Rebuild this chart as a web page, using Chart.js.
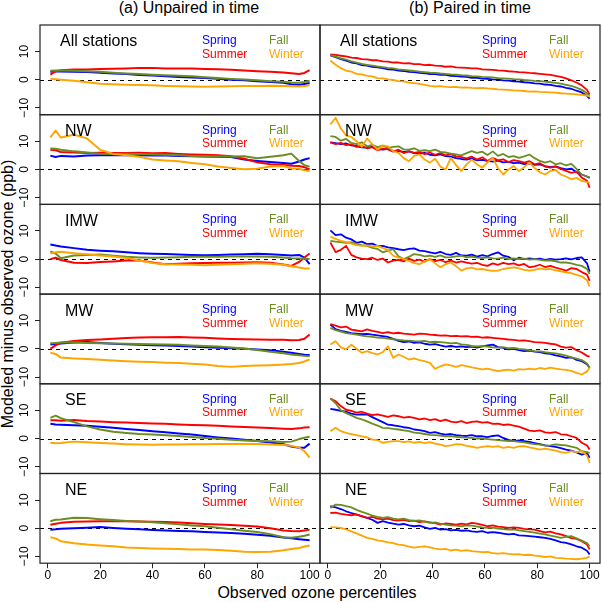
<!DOCTYPE html>
<html>
<head>
<meta charset="utf-8">
<script src="https://cdn.jsdelivr.net/npm/chart.js@4.4.1/dist/chart.umd.min.js"></script>
<style>
  body { margin: 0; background: #fff; width: 602px; height: 602px; position: relative; overflow: hidden;
         font-family: "Liberation Sans", Arial, sans-serif; color: #000; }
  canvas { position: absolute; left: 0; top: 0; }
  .lbl { position: absolute; font-size: 16px; line-height: 16px; white-space: nowrap; }
</style>
</head>
<body>
<div class="lbl" style="left:189px; top:0px; transform:translateX(-50%)">(a) Unpaired in time</div>
<div class="lbl" style="left:470px; top:0px; transform:translateX(-50%)">(b) Paired in time</div>
<div class="lbl" style="left:317px; top:585px; transform:translateX(-50%)">Observed ozone percentiles</div>
<div class="lbl" style="left:8px; top:294px; transform:translate(-50%,-50%) rotate(-90deg)">Modeled minus observed ozone (ppb)</div>

<script>
const pctU = [1, 3, 5, 10, 15, 20, 25, 30, 35, 40, 45, 50, 55, 60, 65, 70, 75, 80, 85, 90, 93, 96, 98, 100];
const pctP = [1, 3, 5, 7, 9, 11, 13, 15, 17, 19, 21, 23, 25, 27, 29, 31, 33, 35, 37, 39, 41, 43, 45, 47, 49,
              51, 53, 55, 57, 59, 61, 63, 65, 67, 69, 71, 73, 75, 77, 79, 81, 83, 85, 87, 89, 91, 93, 95, 97, 99, 100];
const xTicks = [0, 20, 40, 60, 80, 100];
const yTicks = [-10, 0, 10];
const regions = ['All stations', 'NW', 'IMW', 'MW', 'SE', 'NE'];
const seasons = ['Spring', 'Summer', 'Fall', 'Winter'];
const seasonColors = ['#0000ff', '#ff0000', '#6b8e23', '#ffa500'];

// (a) unpaired in time
const allU_spring = [2.8, 2.9, 2.9, 2.8, 2.7, 2.5, 2.2, 2.0, 1.7, 1.5, 1.2, 1.0, 0.8, 0.6, 0.3, 0.0, -0.2, -0.5, -0.8, -1.1, -1.6, -1.8, -1.5, -1.2];
const allU_summer = [1.8, 3.0, 3.4, 3.6, 3.6, 3.8, 3.9, 4.0, 4.2, 4.2, 4.0, 4.0, 4.0, 3.8, 3.7, 3.5, 3.3, 3.0, 2.8, 2.6, 2.3, 2.0, 2.4, 3.4];
const allU_fall   = [3.2, 3.3, 3.3, 3.2, 3.0, 2.8, 2.5, 2.2, 2.0, 1.8, 1.6, 1.4, 1.2, 0.9, 0.6, 0.3, 0.1, -0.2, -0.5, -0.7, -1.0, -1.1, -0.8, -0.4];
const allU_winter = [0.3, 0.2, 0.0, -0.4, -0.9, -1.4, -1.6, -1.8, -1.9, -2.0, -2.2, -2.3, -2.4, -2.5, -2.4, -2.3, -2.2, -2.2, -2.1, -2.2, -2.3, -2.4, -2.2, -2.0];

const nwU_spring = [4.9, 4.4, 4.8, 4.6, 4.9, 5.0, 5.0, 5.1, 5.0, 4.9, 4.9, 4.8, 4.7, 4.6, 4.5, 4.4, 3.5, 3.0, 2.6, 2.3, 2.0, 2.8, 3.5, 4.0];
const nwU_summer = [7.0, 6.8, 6.2, 6.0, 5.8, 5.9, 5.8, 5.8, 5.9, 5.7, 5.8, 5.5, 5.3, 5.2, 5.0, 4.7, 3.8, 2.5, 1.8, 1.6, 1.3, 1.2, 0.8, 0.0];
const nwU_fall   = [7.4, 7.3, 7.0, 6.4, 6.0, 5.6, 5.5, 5.6, 5.5, 5.3, 5.2, 5.0, 4.8, 4.7, 4.6, 4.6, 4.7, 4.0, 4.5, 5.0, 5.6, 3.0, 1.5, 1.0];
const nwU_winter = [11.4, 13.8, 11.3, 12.3, 11.0, 7.0, 5.5, 5.0, 4.5, 3.5, 3.2, 2.9, 2.3, 1.8, 1.0, 0.5, 0.1, 0.2, 1.0, 1.2, 0.3, 0.2, -0.3, -0.6];

const imwU_spring = [5.2, 4.8, 4.5, 3.9, 3.3, 3.0, 2.8, 2.4, 2.1, 1.9, 1.8, 1.6, 1.5, 1.4, 1.5, 1.6, 1.7, 1.9, 1.7, 1.5, 1.3, 1.5, 0.5, -1.8];
const imwU_summer = [0.0, 0.5, -0.3, -1.3, -1.4, -1.0, -0.8, -0.5, -0.5, -1.2, -1.8, -1.6, -1.5, -1.4, -1.3, -1.3, -1.2, -1.1, -1.3, -1.9, -2.4, -1.0, 0.6, 2.0];
const imwU_fall   = [2.7, 2.0, 0.3, 1.3, 1.5, 1.6, 1.2, 0.8, 0.6, 0.5, 0.6, 0.7, 0.8, 0.8, 0.8, 0.9, 0.9, 0.9, 0.8, 0.6, 0.3, 0.2, 0.1, 0.0];
const imwU_winter = [2.0, 2.4, 2.6, 2.1, 1.7, 1.3, 0.9, 0.4, -0.5, -1.4, -1.8, -1.9, -2.0, -2.2, -2.0, -1.8, -1.6, -1.5, -1.6, -2.0, -2.5, -3.0, -3.3, -3.3];

const mwU_spring = [1.5, 1.7, 1.9, 2.2, 2.4, 2.1, 1.8, 1.6, 1.4, 1.3, 1.2, 1.0, 0.8, 0.6, 0.4, 0.2, 0.0, -0.2, -0.5, -1.0, -1.4, -1.8, -2.1, -2.2];
const mwU_summer = [0.0, 1.2, 2.2, 2.8, 3.1, 3.3, 3.6, 3.8, 4.0, 4.1, 4.1, 4.2, 4.0, 3.9, 3.7, 3.5, 3.4, 3.3, 3.2, 3.2, 3.0, 3.1, 3.6, 5.1];
const mwU_fall   = [2.0, 2.1, 2.2, 2.2, 2.1, 2.0, 1.9, 1.8, 1.7, 1.6, 1.5, 1.4, 1.2, 1.0, 0.8, 0.5, 0.1, -0.4, -1.0, -1.6, -2.0, -2.3, -2.5, -2.6];
const mwU_winter = [-1.4, -1.8, -3.1, -3.4, -3.6, -3.9, -4.1, -4.4, -4.6, -4.7, -4.9, -5.0, -5.3, -5.6, -6.1, -6.4, -6.1, -5.9, -5.8, -5.6, -5.4, -5.0, -4.5, -3.8];

const seU_spring = [5.2, 5.0, 4.9, 4.7, 4.5, 4.2, 3.8, 3.4, 3.0, 2.6, 2.2, 1.8, 1.4, 0.9, 0.4, 0.0, -0.4, -0.9, -1.4, -2.0, -2.8, -3.3, -3.3, -1.8];
const seU_summer = [6.5, 6.5, 6.3, 6.6, 6.2, 6.0, 5.8, 5.7, 5.5, 5.3, 5.2, 5.0, 4.8, 4.7, 4.5, 4.3, 4.1, 3.9, 3.7, 3.5, 3.4, 3.6, 3.9, 4.0];
const seU_fall   = [7.3, 8.1, 7.2, 5.8, 4.3, 3.2, 2.4, 2.0, 1.6, 1.4, 1.2, 0.9, 0.5, 0.2, -0.1, -0.4, -0.7, -0.9, -1.0, -1.2, -1.1, -0.2, 0.3, 0.6];
const seU_winter = [-1.5, -1.7, -1.6, -1.1, -1.3, -1.6, -1.8, -2.0, -2.1, -2.2, -2.1, -2.1, -2.0, -2.0, -1.9, -1.9, -1.9, -1.9, -2.1, -2.3, -2.6, -3.2, -4.5, -6.8];

const neU_spring = [-0.5, -0.4, -0.2, 0.0, 0.2, 0.4, 0.1, -0.2, -0.4, -0.6, -0.8, -1.0, -1.1, -1.3, -1.5, -1.7, -2.0, -2.3, -2.7, -3.3, -3.6, -3.9, -4.1, -4.3];
const neU_summer = [1.2, 1.6, 1.9, 2.3, 2.4, 2.5, 2.5, 2.5, 2.4, 2.3, 2.2, 2.0, 1.8, 1.5, 1.3, 1.1, 0.9, 0.6, 0.0, -0.8, -1.0, -1.1, -0.8, -0.5];
const neU_fall   = [2.5, 3.0, 3.1, 3.7, 3.6, 3.2, 2.9, 2.6, 2.4, 2.1, 1.8, 1.4, 1.0, 0.7, 0.2, -0.4, -0.9, -1.3, -2.1, -3.2, -3.4, -3.0, -2.7, -2.2];
const neU_winter = [-3.2, -3.6, -4.6, -5.3, -5.8, -6.1, -6.4, -6.8, -7.0, -7.2, -7.3, -7.4, -7.5, -7.5, -7.7, -8.0, -8.3, -8.4, -8.3, -7.8, -7.4, -7.0, -6.5, -6.1];

// (b) paired in time
const allP_spring = [8.6, 8.0, 7.3, 6.8, 6.1, 5.8, 5.2, 5.0, 4.6, 4.4, 4.1, 3.7, 3.6, 3.2, 3.1, 2.8, 2.7, 2.4, 2.3, 2.0,
  2.0, 1.7, 1.7, 1.4, 1.3, 1.1, 1.0, 0.7, 0.7, 0.4, 0.3, 0.1, 0.0, -0.2, -0.3, -0.6, -0.7, -0.9, -1.0, -1.3,
  -1.4, -1.7, -1.8, -2.2, -2.4, -2.9, -3.2, -3.9, -4.5, -5.7, -6.7];
const allP_summer = [9.0, 8.8, 8.5, 8.3, 7.8, 7.7, 7.3, 7.2, 6.9, 6.9, 6.5, 6.4, 6.1, 6.1, 5.8, 5.9, 5.5, 5.5, 5.2, 5.3,
  5.0, 4.9, 4.6, 4.7, 4.4, 4.3, 4.2, 4.0, 4.0, 3.7, 3.6, 3.5, 3.3, 3.2, 3.0, 2.9, 2.7, 2.6, 2.4, 2.3,
  2.1, 1.9, 1.7, 1.4, 1.0, 0.5, -0.2, -1.0, -2.0, -3.6, -5.3];
const allP_fall = [8.7, 8.2, 7.6, 7.1, 6.5, 6.1, 5.6, 5.3, 5.0, 4.7, 4.5, 4.2, 4.0, 3.7, 3.5, 3.3, 3.1, 2.9, 2.7, 2.5,
  2.4, 2.2, 2.1, 1.9, 1.8, 1.6, 1.5, 1.3, 1.2, 1.0, 0.9, 0.8, 0.6, 0.5, 0.4, 0.2, 0.1, -0.1, -0.2, -0.4,
  -0.5, -0.7, -0.9, -1.1, -1.4, -1.8, -2.2, -2.8, -3.6, -4.8, -5.8];
const allP_winter = [6.8, 5.3, 4.1, 3.2, 2.9, 2.1, 1.9, 1.4, 1.2, 0.6, 0.5, 0.1, -0.1, -0.5, -0.6, -1.0, -1.2, -1.5, -1.8, -2.2,
  -2.4, -2.3, -2.5, -2.6, -2.5, -2.8, -2.7, -2.9, -3.0, -2.9, -3.1, -3.2, -3.4, -3.5, -3.6, -3.8, -3.9, -4.0, -4.2, -4.1,
  -4.3, -4.4, -4.5, -4.6, -4.8, -4.9, -5.0, -5.2, -5.4, -5.6, -5.9];

const nwP_spring = [9.6, 9.3, 9.0, 9.2, 8.5, 8.3, 7.8, 7.7, 8.0, 7.2, 7.0, 7.3, 6.6, 6.5, 6.2, 6.4, 5.8, 5.6, 5.9, 5.2,
  5.0, 5.3, 4.7, 4.5, 4.0, 3.7, 3.5, 3.9, 3.2, 3.4, 3.0, 2.8, 3.1, 2.5, 2.7, 2.2, 2.4, 1.9, 2.1, 1.6,
  1.8, 1.2, 0.8, 1.1, 0.5, 0.0, 0.3, -1.0, -1.8, -2.5, -3.0];
const nwP_summer = [9.6, 9.0, 9.4, 8.6, 8.9, 8.0, 8.4, 7.5, 7.9, 6.8, 7.4, 7.1, 6.3, 7.0, 5.8, 6.5, 5.9, 6.2, 5.4, 6.0,
  5.2, 5.8, 5.0, 5.4, 4.6, 4.4, 3.9, 4.5, 3.5, 4.3, 3.0, 4.1, 3.2, 3.6, 2.6, 3.3, 2.9, 2.4, 2.9, 1.8,
  2.2, 1.0, 0.6, 1.0, 0.2, -0.5, -1.2, -0.8, -2.9, -4.0, -6.5];
const nwP_fall = [11.8, 11.5, 10.2, 10.8, 9.4, 9.0, 9.6, 8.2, 8.7, 7.9, 8.4, 7.6, 8.0, 8.2, 7.1, 7.0, 7.5, 6.6, 6.8, 6.5,
  7.0, 6.2, 6.0, 5.6, 5.3, 5.0, 5.8, 6.5, 5.9, 6.3, 5.1, 6.4, 4.8, 5.5, 4.4, 4.7, 4.1, 4.6, 5.3, 4.0,
  3.0, 2.4, 2.9, 1.8, 2.2, 1.4, 2.0, 0.2, -1.8, -2.5, -2.9];
const nwP_winter = [15.9, 18.3, 14.5, 12.0, 11.5, 10.0, 8.0, 11.0, 9.0, 7.0, 8.5, 8.2, 6.5, 5.9, 4.0, 2.9, 4.8, 5.3, 3.5, 2.4,
  3.8, 1.0, 0.0, 4.1, 1.5, -0.6, 1.8, 3.5, 1.8, 0.6, 2.5, 4.1, 0.5, -1.8, 0.0, 1.2, -0.6, 0.8, 2.4, 0.5,
  -1.0, -1.8, -0.6, -0.2, -1.8, -2.5, -3.5, -3.0, -4.1, -4.5, -4.7];

const imwP_spring = [10.2, 8.5, 8.8, 7.6, 7.0, 5.8, 6.2, 5.3, 5.5, 4.6, 4.7, 4.2, 3.9, 3.5, 3.2, 3.6, 3.8, 3.0, 2.8, 2.4,
  2.0, 2.6, 1.8, 1.5, 2.2, 1.3, 1.2, 1.6, 0.9, 1.4, 1.0, 1.8, 2.4, 1.2, 0.8, -0.4, 0.5, 0.0, 0.3, 0.0,
  0.2, -0.3, 0.1, -0.2, 0.0, 0.3, -0.1, 0.4, 0.6, -1.5, -4.5];
const imwP_summer = [5.9, 2.5, 3.3, 4.7, 1.5, 0.6, 0.2, 0.0, 0.5, -0.3, 0.2, -1.2, -0.5, -0.3, -0.8, 0.2, -0.6, -0.2, -0.9, 0.0,
  -0.7, -0.3, -1.1, -0.5, -1.2, -0.8, -1.2, -1.6, -1.3, -2.0, -2.4, -1.5, -2.0, -1.3, -1.8, -1.5, -2.2, -1.7, -2.9, -2.6,
  -2.0, -2.8, -2.4, -3.0, -3.5, -4.1, -3.2, -3.5, -4.6, -5.5, -7.7];
const imwP_fall = [6.5, 6.2, 6.0, 5.8, 5.9, 5.4, 5.0, 4.7, 4.0, 3.6, 2.4, 3.0, 3.5, 1.0, 0.0, 0.8, 1.8, 1.5, 1.0, 1.2,
  0.8, 1.3, 0.6, 0.7, 1.0, 1.2, 0.6, 0.9, 0.5, 0.4, 0.6, 0.3, 0.2, 0.5, 0.0, 0.3, 0.0, 0.2, -0.2, 0.0,
  -0.3, -0.5, -0.4, -0.8, -1.2, -1.2, -1.5, -2.0, -2.4, -3.5, -5.3];
const imwP_winter = [8.0, 7.2, 6.5, 6.0, 5.5, 5.0, 4.7, 4.9, 4.5, 4.7, 4.0, 3.2, 1.2, 0.5, 0.0, -0.6, -1.4, -1.8, -0.8, 0.0,
  -1.5, -2.9, -1.8, -1.2, -2.5, -4.1, -3.3, -3.0, -3.6, -3.5, -3.9, -4.2, -4.1, -3.5, -3.2, -2.9, -3.3, -3.8, -4.1, -3.8,
  -3.3, -3.6, -3.5, -4.0, -4.3, -4.7, -5.0, -5.6, -6.1, -7.5, -9.7];

const mwP_spring = [8.6, 7.0, 6.4, 6.0, 5.6, 5.4, 5.2, 5.3, 5.0, 4.8, 4.5, 4.2, 3.5, 2.8, 2.4, 2.6, 2.1, 2.3, 1.8, 1.5,
  1.7, 1.2, 0.8, 1.0, 0.7, 0.9, 0.6, 0.8, 0.4, 0.9, 1.2, 1.5, 0.6, 0.3, -0.2, 0.0, -0.5, -0.8, -0.6, -1.0,
  -1.2, -1.6, -1.8, -2.3, -2.7, -3.2, -3.0, -3.9, -4.4, -5.5, -6.7];
const mwP_summer = [8.8, 8.2, 7.6, 7.9, 6.8, 6.5, 6.2, 6.9, 6.4, 6.0, 5.6, 5.9, 5.5, 5.7, 5.4, 5.2, 5.0, 5.4, 5.3, 5.0,
  4.9, 4.7, 4.8, 4.5, 4.6, 4.4, 4.5, 4.2, 4.3, 4.0, 4.1, 3.9, 3.7, 3.5, 3.3, 3.2, 2.9, 3.0, 2.7, 2.4,
  2.3, 2.1, 1.8, 1.6, 0.8, 0.4, 0.6, -0.5, -1.3, -2.5, -2.8];
const mwP_fall = [7.4, 6.6, 6.1, 5.6, 5.3, 5.0, 4.7, 4.4, 4.2, 4.0, 3.9, 3.6, 3.4, 3.2, 3.0, 2.9, 2.7, 2.6, 2.8, 2.4,
  2.5, 2.4, 2.2, 1.9, 2.1, 1.6, 1.4, 1.0, 0.9, 1.0, 0.8, 0.5, 0.4, 0.6, 0.2, 0.3, 0.0, -0.2, -0.5, -0.8,
  -0.9, -1.2, -1.4, -1.6, -2.0, -2.4, -3.0, -3.5, -4.0, -5.2, -6.7];
const mwP_winter = [1.5, 2.7, 0.5, -0.2, 1.5, 0.0, -1.4, -0.8, -1.5, -2.0, -1.2, 0.9, -3.2, -2.0, -2.8, -3.8, -3.4, -4.0, -4.4, -5.0,
  -7.1, -6.2, -5.5, -5.9, -6.4, -5.8, -6.1, -6.6, -6.9, -7.3, -7.0, -7.5, -7.9, -7.6, -7.4, -7.7, -7.2, -7.4, -7.0, -7.3,
  -6.8, -7.1, -6.7, -7.0, -7.3, -7.5, -7.8, -8.5, -9.1, -8.0, -6.7];

const seP_spring = [10.5, 10.2, 9.8, 9.5, 8.8, 8.5, 8.6, 8.5, 7.6, 6.7, 5.8, 4.9, 4.7, 4.4, 4.0, 3.8, 3.2, 3.0, 2.6, 2.0,
  2.3, 1.7, 1.4, 1.6, 1.2, 1.0, 0.9, 1.2, 0.8, 0.8, 0.5, 0.9, 1.1, 0.2, -0.5, -0.9, -0.7, -0.9, -1.2, -1.6,
  -2.0, -2.4, -2.7, -3.0, -3.4, -3.9, -4.3, -4.9, -5.7, -5.2, -6.8];
const seP_summer = [14.2, 13.2, 11.5, 10.2, 9.8, 9.2, 9.5, 8.8, 8.3, 8.6, 8.1, 7.7, 8.2, 7.9, 7.4, 7.7, 7.3, 6.8, 7.1, 6.5,
  6.9, 6.2, 6.7, 6.0, 5.7, 6.2, 5.5, 5.9, 6.1, 5.6, 5.8, 5.2, 5.3, 4.8, 5.0, 4.6, 4.2, 3.5, 2.8, 2.6,
  2.9, 2.2, 2.0, 2.3, 1.5, 1.4, 0.8, 0.2, -1.5, -2.5, -3.9];
const seP_fall = [14.2, 12.5, 10.0, 9.0, 8.2, 7.3, 6.8, 6.1, 5.3, 4.6, 3.8, 3.7, 3.4, 3.2, 2.9, 2.6, 2.1, 1.9, 1.6, 1.3,
  1.2, 1.0, 0.8, 0.8, 0.6, 0.4, 0.3, 0.2, 0.0, 0.0, -0.2, -0.4, -0.6, -0.7, -0.9, -0.9, -1.2, -1.4, -1.7, -2.0,
  -2.2, -2.5, -2.4, -2.1, -2.3, -2.4, -2.9, -3.3, -4.5, -4.8, -5.1];
const seP_winter = [2.6, 3.8, 2.6, 2.0, 1.6, 1.2, 0.8, 0.4, -0.4, -0.6, -1.5, -1.2, -0.9, -0.9, -1.3, -1.0, -1.5, -1.2, -1.6, -1.3,
  -1.8, -2.2, -2.7, -2.4, -2.0, -2.1, -2.6, -2.9, -3.3, -3.0, -2.7, -3.0, -2.7, -3.3, -3.0, -3.3, -2.8, -2.7, -3.1, -3.5,
  -3.9, -3.6, -3.9, -4.3, -4.8, -5.1, -4.5, -4.8, -4.5, -6.0, -8.6];

const neP_spring = [7.8, 7.4, 6.8, 6.0, 5.4, 4.8, 4.3, 3.7, 3.0, 1.9, 2.5, 2.0, 1.6, 1.3, 1.5, 1.0, 0.7, 0.9, 0.3, -0.2,
  0.1, -0.5, -0.3, -0.8, -0.6, -0.9, -0.8, -1.1, -1.3, -1.0, -1.6, -1.4, -1.6, -1.9, -2.2, -2.0, -2.5, -2.6, -2.8, -3.0,
  -3.2, -3.4, -3.8, -4.3, -4.9, -5.2, -5.7, -6.4, -6.9, -8.0, -9.3];
const neP_summer = [5.4, 5.5, 5.1, 4.8, 4.6, 4.9, 4.2, 3.7, 4.0, 3.4, 3.1, 3.4, 2.9, 2.7, 3.0, 2.5, 2.7, 2.2, 2.4, 2.1,
  1.8, 1.3, 1.7, 1.5, 1.3, 1.6, 1.4, 1.9, 1.6, 1.2, 0.7, 1.0, 0.6, 0.4, 0.1, 0.3, 0.1, -0.2, -0.4, -0.5,
  -1.0, -1.5, -1.2, -1.8, -2.2, -2.8, -3.5, -3.8, -4.6, -5.8, -7.5];
const neP_fall = [7.2, 8.4, 8.3, 7.8, 7.4, 6.5, 5.8, 5.2, 4.5, 4.0, 3.7, 3.9, 3.4, 3.1, 3.4, 2.9, 2.6, 2.8, 2.3, 1.9,
  2.1, 1.6, 1.3, 1.0, 0.9, 0.7, 1.0, 0.9, 0.6, 0.3, 0.1, 0.2, -0.1, -0.3, -0.5, -0.4, -0.8, -1.0, -1.3, -1.6,
  -1.9, -2.2, -2.6, -3.0, -3.4, -3.1, -2.8, -3.6, -4.4, -5.3, -6.4];
const neP_winter = [0.4, 0.3, 0.1, -0.4, -1.1, -1.8, -2.6, -3.4, -3.8, -4.3, -4.6, -5.0, -5.3, -5.8, -6.0, -6.5, -6.9, -6.6, -6.4, -6.8,
  -7.2, -7.5, -7.3, -7.9, -7.6, -8.0, -7.8, -8.1, -8.3, -8.5, -8.4, -8.8, -9.0, -8.8, -9.1, -9.3, -9.2, -9.5, -9.4, -9.7,
  -9.9, -10.2, -10.0, -10.5, -10.6, -10.8, -10.9, -11.0, -10.8, -10.5, -9.9];

const unpaired = [
  [allU_spring, allU_summer, allU_fall, allU_winter],
  [nwU_spring, nwU_summer, nwU_fall, nwU_winter],
  [imwU_spring, imwU_summer, imwU_fall, imwU_winter],
  [mwU_spring, mwU_summer, mwU_fall, mwU_winter],
  [seU_spring, seU_summer, seU_fall, seU_winter],
  [neU_spring, neU_summer, neU_fall, neU_winter]
];
const paired = [
  [allP_spring, allP_summer, allP_fall, allP_winter],
  [nwP_spring, nwP_summer, nwP_fall, nwP_winter],
  [imwP_spring, imwP_summer, imwP_fall, imwP_winter],
  [mwP_spring, mwP_summer, mwP_fall, mwP_winter],
  [seP_spring, seP_summer, seP_fall, seP_winter],
  [neP_spring, neP_summer, neP_fall, neP_winter]
];

// layout of the 6x2 grid of panels
const PAGE = 602;
const colLeft = [40, 320];
const colW = 280;
const gridTop = 25;
const rowH = 89.7;
const Y_AXIS_W = 40;   // room for the rotated y tick labels
const X_AXIS_H = 22;   // room for the x tick labels
const FONT = '"Liberation Sans", Arial, sans-serif';

Chart.defaults.font.family = FONT;
Chart.defaults.color = '#000';

// frame, dashed zero line, region name and the season words
const panelDecor = {
  id: 'panelDecor',
  beforeDatasetsDraw(chart) {
    const { ctx, chartArea: a, scales } = chart;
    const y0 = Math.round(scales.y.getPixelForValue(0)) + 0.5;
    ctx.save();
    ctx.strokeStyle = '#000';
    ctx.lineWidth = 1;
    ctx.setLineDash([4, 4]);
    ctx.beginPath();
    ctx.moveTo(a.left, y0);
    ctx.lineTo(a.right, y0);
    ctx.stroke();
    ctx.restore();
  },
  afterDraw(chart, args, opts) {
    const { ctx, chartArea: a } = chart;
    ctx.save();
    ctx.strokeStyle = '#222';
    ctx.lineWidth = 1.2;
    ctx.strokeRect(a.left, a.top, a.right - a.left, a.bottom - a.top);

    ctx.textAlign = 'left';
    ctx.textBaseline = 'middle';
    ctx.fillStyle = '#000';
    ctx.font = '16px ' + FONT;
    ctx.fillText(opts.name, a.left + (opts.name === 'All stations' ? 20 : 25), a.top + 17);

    ctx.font = '12px ' + FONT;
    seasons.forEach((s, k) => {
      ctx.fillStyle = seasonColors[k];
      ctx.fillText(s, a.left + (k < 2 ? 162 : 229), a.top + (k % 2 ? 29.3 : 15.5));
    });
    ctx.restore();
  }
};

function makePanel(row, col) {
  const cv = document.createElement('canvas');
  cv.width = PAGE;
  cv.height = PAGE;
  document.body.appendChild(cv);

  const xs = col === 0 ? pctU : pctP;
  const series = col === 0 ? unpaired[row] : paired[row];
  const L = colLeft[col];
  const T = gridTop + row * rowH;
  const showX = row === 5;
  const showY = col === 0;

  new Chart(cv, {
    type: 'line',
    data: {
      datasets: series.map((vals, k) => ({
        label: seasons[k],
        data: xs.map((x, i) => ({ x: x, y: vals[i] })),
        borderColor: seasonColors[k],
        borderWidth: col === 0 ? 2 : 1.8,
        pointRadius: 0,
        tension: 0,
        fill: false,
        borderJoinStyle: 'round',
        order: 3 - k
      }))
    },
    options: {
      responsive: false,
      animation: false,
      events: [],
      layout: {
        padding: {
          left: showY ? L - Y_AXIS_W : L,
          top: T,
          right: PAGE - L - colW,
          bottom: PAGE - T - rowH - (showX ? X_AXIS_H : 0)
        }
      },
      plugins: {
        legend: { display: false },
        tooltip: { enabled: false },
        panelDecor: { name: regions[row] }
      },
      scales: {
        x: {
          type: 'linear',
          min: -2.96,
          max: 103.96,
          display: showX,
          afterBuildTicks: s => { s.ticks = xTicks.map(v => ({ value: v })); },
          afterFit: s => { s.height = showX ? X_AXIS_H : 0; s.paddingLeft = 0; s.paddingRight = 0; },
          grid: { drawOnChartArea: false, tickLength: 5, tickColor: '#222' },
          border: { display: false },
          ticks: { font: { size: 12 }, color: '#000', padding: 0, maxRotation: 0, autoSkip: false }
        },
        y: {
          min: -12.4,
          max: 19.4,
          display: showY,
          afterBuildTicks: s => { s.ticks = yTicks.map(v => ({ value: v })); },
          afterFit: s => { s.width = showY ? Y_AXIS_W : 0; s.paddingTop = 0; s.paddingBottom = 0; },
          grid: { drawOnChartArea: false, tickLength: 5, tickColor: '#222' },
          border: { display: false },
          ticks: {
            font: { size: 12 }, color: '#000', padding: 0,
            minRotation: 90, maxRotation: 90, crossAlign: 'center', autoSkip: false,
            callback: v => (v < 0 ? '\u2212' + Math.abs(v) : String(v))
          }
        }
      }
    },
    plugins: [panelDecor]
  });
}

for (let r = 0; r < 6; r++) {
  makePanel(r, 0);
  makePanel(r, 1);
}
</script>
</body>
</html>
